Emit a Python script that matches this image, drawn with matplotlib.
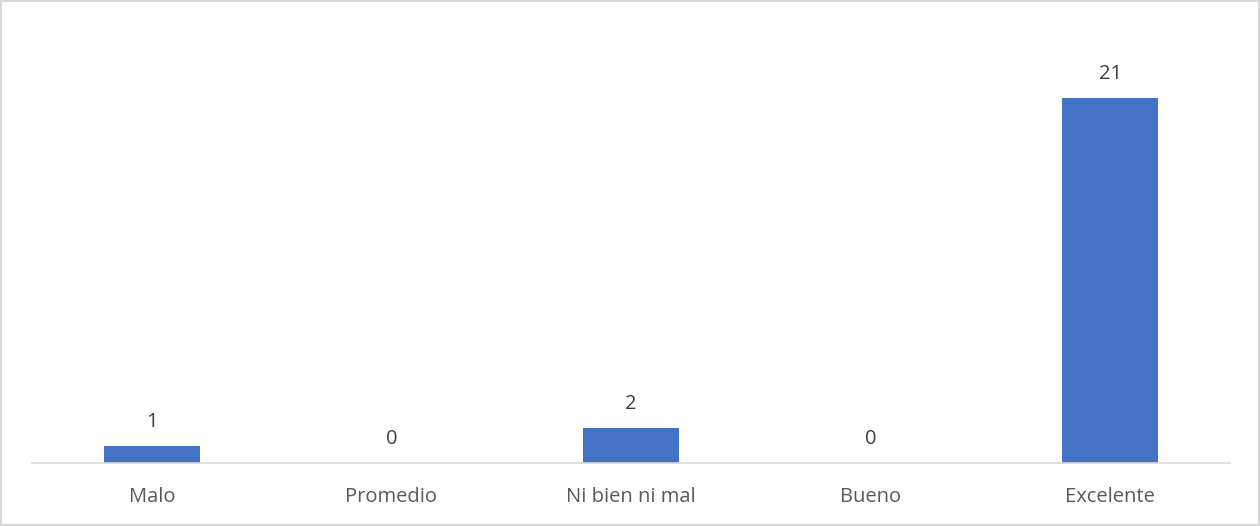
import numpy as np
import matplotlib.pyplot as plt
from matplotlib.patches import Rectangle

categorias = ["Malo", "Promedio", "Ni bien ni mal", "Bueno", "Excelente"]
valores = [1, 0, 2, 0, 21]

plt.rcParams['font.family'] = ['Open Sans', 'DejaVu Sans']

W, H = 1260, 526
fig = plt.figure(figsize=(W / 100, H / 100), dpi=100)
ax = fig.add_axes([32 / W, (H - 463) / H, (1230 - 32) / W, (463 - 28.5) / H])

x = np.arange(len(categorias))
ax.bar(x, valores, width=0.4, color="#4472C4", zorder=2)

for xi, v in zip(x, valores):
    ax.annotate(str(v), (xi, v), xytext=(0, 10), textcoords="offset points",
                ha="center", va="bottom", fontsize=14.5, color="#404040")

ax.set_xlim(-0.5, len(categorias) - 0.5)
ax.set_ylim(0, 25)
ax.set_xticks(x)
ax.set_xticklabels(categorias, fontsize=14.5, color="#595959")
ax.tick_params(axis="x", length=0, pad=17)
ax.set_yticks([])
for s in ["top", "right", "left"]:
    ax.spines[s].set_visible(False)
ax.spines["bottom"].set_color("#D9D9D9")
ax.spines["bottom"].set_linewidth(1.2)

# marco exterior
fig.patches.append(Rectangle((1 / W, 1 / H), (W - 2) / W, (H - 2) / H,
                             transform=fig.transFigure, fill=False,
                             edgecolor="#D9D9D9", linewidth=1.5))

fig.savefig("out.png", dpi=100)
